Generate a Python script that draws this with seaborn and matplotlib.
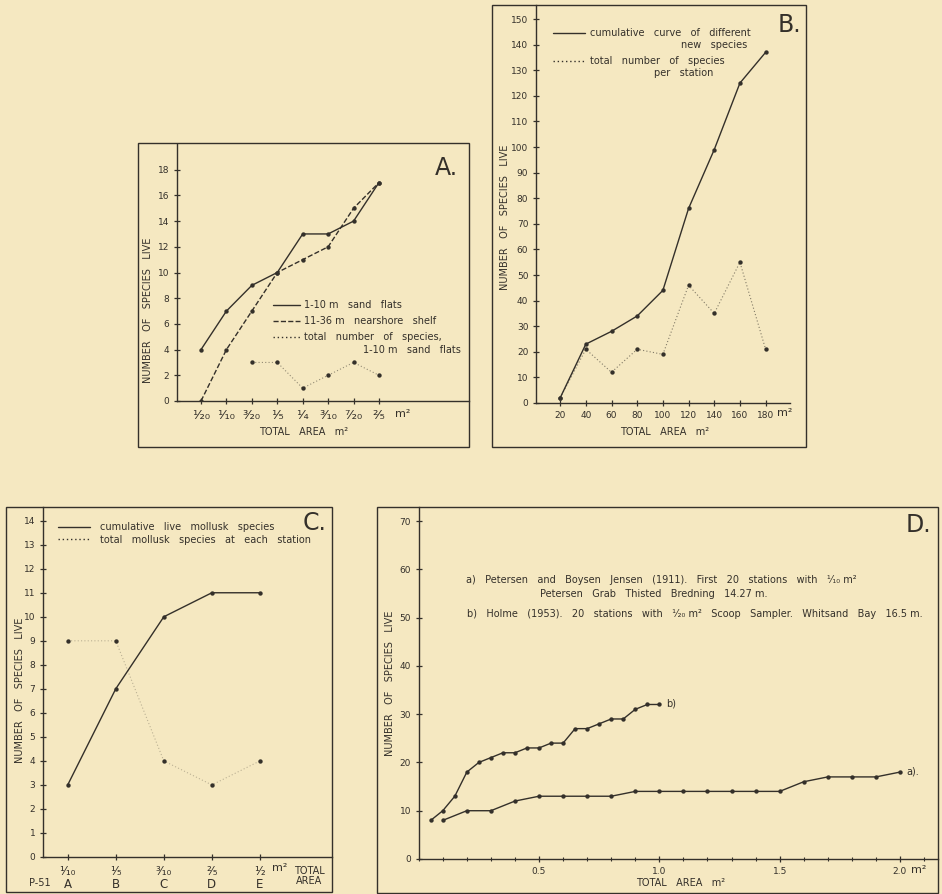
import matplotlib
matplotlib.use('Agg')
import matplotlib.pyplot as plt
import seaborn as sns
from matplotlib.patches import Rectangle
from matplotlib.lines import Line2D
from matplotlib.ticker import MultipleLocator, FixedLocator

# ---- data ----
# A. sand flats vs nearshore shelf
area_a = [0.05, 0.10, 0.15, 0.20, 0.25, 0.30, 0.35, 0.40]
sand_flats_a = [4, 7, 9, 10, 13, 13, 14, 17]
shelf_a = [0, 4, 7, 10, 11, 12, 15, 17]
total_area_a = [0.15, 0.20, 0.25, 0.30, 0.35, 0.40]
total_a = [3, 3, 1, 2, 3, 2]
ticks_a = ['¹⁄₂₀', '¹⁄₁₀', '³⁄₂₀', '¹⁄₅', '¹⁄₄', '³⁄₁₀', '⁷⁄₂₀', '²⁄₅']

# B. cumulative curve, 20 m2 steps
area_b = [20, 40, 60, 80, 100, 120, 140, 160, 180]
cumulative_b = [2, 23, 28, 34, 44, 76, 99, 125, 137]
station_b = [2, 21, 12, 21, 19, 46, 35, 55, 21]

# C. mollusks at P-51
area_c = [0.1, 0.2, 0.3, 0.4, 0.5]
cumulative_c = [3, 7, 10, 11, 11]
station_c = [9, 9, 4, 3, 4]
ticks_c = ['¹⁄₁₀\nA', '¹⁄₅\nB', '³⁄₁₀\nC', '²⁄₅\nD', '¹⁄₂\nE']

# D. Petersen & Boysen Jensen (a) vs Holme (b)
area_d_a = [0.1, 0.2, 0.3, 0.4, 0.5, 0.6, 0.7, 0.8, 0.9, 1.0,
            1.1, 1.2, 1.3, 1.4, 1.5, 1.6, 1.7, 1.8, 1.9, 2.0]
petersen_d = [8, 10, 10, 12, 13, 13, 13, 13, 14, 14,
              14, 14, 14, 14, 14, 16, 17, 17, 17, 18]
area_d_b = [0.05, 0.10, 0.15, 0.20, 0.25, 0.30, 0.35, 0.40, 0.45, 0.50,
            0.55, 0.60, 0.65, 0.70, 0.75, 0.80, 0.85, 0.90, 0.95, 1.00]
holme_d = [8, 10, 13, 18, 20, 21, 22, 22, 23, 23,
           24, 24, 27, 27, 28, 29, 29, 31, 32, 32]
ticks_d = ['0.5', '1.0', '1.5', '2.0']

INK = '#34302a'
BG = '#f5e8c1'
W, H = 942, 894
FS = 7

sns.set_style('ticks')
plt.rcParams['font.family'] = ['DejaVu Sans']

fig = plt.figure(figsize=(W / 100, H / 100), dpi=100, facecolor=BG)


def frame(l, t, r, b):
    fig.add_artist(Rectangle((l / W, 1 - b / H), (r - l) / W, (b - t) / H,
                             transform=fig.transFigure, fill=False, ec=INK, lw=1.0))


def panel(l, t, r, b, xlim, ylim):
    ax = fig.add_axes([l / W, 1 - b / H, (r - l) / W, (b - t) / H])
    ax.set_facecolor('none')
    ax.set_xlim(*xlim)
    ax.set_ylim(*ylim)
    for s in ['top', 'right']:
        ax.spines[s].set_visible(False)
    for s in ['left', 'bottom']:
        ax.spines[s].set_color(INK)
        ax.spines[s].set_linewidth(1.0)
    ax.tick_params(direction='inout', length=5, width=0.9, colors=INK,
                   labelsize=6.5, pad=3)
    return ax


def ftext(x, y, s, **kw):
    kw.setdefault('color', INK)
    kw.setdefault('fontsize', FS)
    kw.setdefault('va', 'center')
    fig.text(x / W, 1 - y / H, s, **kw)


def line(ax, x, y, ls='-', lw=1.0, alpha=1.0):
    sns.lineplot(x=x, y=y, ax=ax, color=INK, linestyle=ls, lw=lw, alpha=alpha)
    sns.scatterplot(x=x, y=y, ax=ax, color=INK, s=10, linewidth=0, zorder=3)


def legend(ax, styles, labels, x, y, **kw):
    handles = [Line2D([], [], color=INK, linestyle=s, lw=1.0) for s in styles]
    ax.legend(handles, labels, loc='upper left', bbox_to_anchor=(x / W, 1 - y / H),
              bbox_transform=fig.transFigure, frameon=False, fontsize=FS,
              borderpad=0, borderaxespad=0, labelcolor=INK, **kw)


DOT = (0, (1, 2))
YLAB = 'NUMBER   OF   SPECIES   LIVE'
XLAB = 'TOTAL   AREA   m²'

# ---------------- A ----------------
frame(138, 143, 469, 447)
ax = panel(177, 144, 469, 401, (0.0028, 0.577), (0, 20))
line(ax, area_a, sand_flats_a)
line(ax, area_a, shelf_a, ls='--')
line(ax, total_area_a, total_a, ls=DOT, lw=0.8, alpha=0.5)
ax.set_yticks(range(0, 19, 2))
ax.xaxis.set_major_locator(FixedLocator(area_a))
ax.set_xticklabels(ticks_a, fontsize=9.5)
ax.set_xlabel('')
ax.set_ylabel('')
legend(ax, ['-', '--', DOT],
       ['1-10 m   sand   flats', '11-36 m   nearshore   shelf', 'total   number   of   species,'],
       273, 300, handlelength=2.8, handletextpad=0.4, labelspacing=0.62)
ftext(461, 350, '1-10 m   sand   flats', ha='right')
ftext(435, 168, 'A.', fontsize=17)
ftext(148, 310, YLAB, rotation=90, ha='center')
ftext(395, 414, 'm²', fontsize=8)
ftext(304, 432, XLAB, ha='center')

# ---------------- B ----------------
frame(492, 5, 806, 447)
ax = panel(536, 5, 790, 403, (1.2, 199), (0, 155.5))
line(ax, area_b, cumulative_b)
line(ax, area_b, station_b, ls=DOT, lw=0.8, alpha=0.6)
ax.set_yticks(range(0, 151, 10))
ax.set_xticks(area_b)
ax.set_xlabel('')
ax.set_ylabel('')
legend(ax, ['-', DOT], ['cumulative   curve   of   different', 'total   number   of   species'],
       553, 28, handlelength=3.3, handletextpad=0.5, labelspacing=1.9)
ftext(747, 45, 'new   species', ha='right')
ftext(713, 73, 'per   station', ha='right')
ftext(778, 25, 'B.', fontsize=17)
ftext(505, 217, YLAB, rotation=90, ha='center')
ftext(777, 413, 'm²', fontsize=8)
ftext(665, 432, XLAB, ha='center')

# ---------------- C ----------------
frame(6, 507, 332, 892)
ax = panel(43, 507, 332, 857, (0.0486, 0.65), (0, 14.57))
line(ax, area_c, cumulative_c)
line(ax, area_c, station_c, ls=DOT, lw=0.8, alpha=0.3)
ax.set_yticks(range(0, 15))
ax.xaxis.set_major_locator(FixedLocator(area_c))
ax.set_xticklabels(ticks_c, fontsize=8.5, linespacing=1.05)
ax.set_xlabel('')
ax.set_ylabel('')
legend(ax, ['-', DOT], ['cumulative   live   mollusk   species',
                        'total   mollusk   species   at   each   station'],
       58, 522, handlelength=3.3, handletextpad=1.0, labelspacing=0.28)
ftext(303, 523, 'C.', fontsize=17)
ftext(20, 690, YLAB, rotation=90, ha='center')
ftext(272, 868, 'm²', fontsize=8)
ftext(309, 876, 'TOTAL\nAREA', ha='center', linespacing=1.1)
ftext(40, 883, 'P-51', ha='center')

# ---------------- D ----------------
frame(377, 507, 938, 893)
ax = panel(418.7, 507, 938, 859, (0, 2.158), (0, 72.9))
line(ax, area_d_a, petersen_d)
line(ax, area_d_b, holme_d)
ax.set_yticks(range(0, 71, 10))
ax.xaxis.set_major_locator(FixedLocator([0.5, 1.0, 1.5, 2.0]))
ax.xaxis.set_minor_locator(MultipleLocator(0.1))
ax.set_xticklabels(ticks_d)
ax.tick_params(axis='x', which='minor', direction='inout', length=3, width=0.8, colors=INK)
ax.set_xlabel('')
ax.set_ylabel('')
ftext(911, 870, 'm²', fontsize=8)
ftext(681, 883, XLAB, ha='center')
ftext(390, 683, YLAB, rotation=90, ha='center')
ftext(906, 525, 'D.', fontsize=17)
ftext(466, 580, 'a)   Petersen   and   Boysen   Jensen   (1911).   First   20   stations   with   ¹⁄₁₀ m²')
ftext(540, 594, 'Petersen   Grab   Thisted   Bredning   14.27 m.')
ftext(467, 614, 'b)   Holme   (1953).   20   stations   with   ¹⁄₂₀ m²   Scoop   Sampler.   Whitsand   Bay   16.5 m.')
ftext(666, 704, 'b)')
ftext(906, 772, 'a).')

fig.savefig('out.png', dpi=100, facecolor=BG)
